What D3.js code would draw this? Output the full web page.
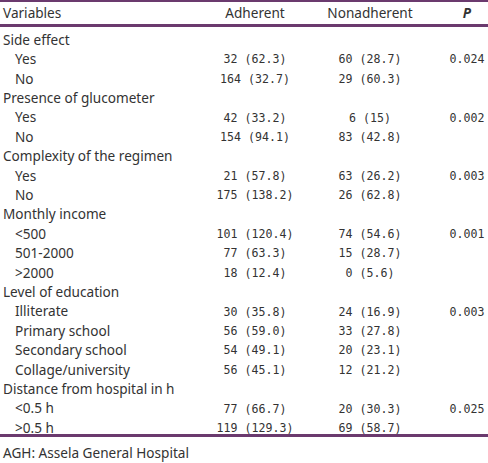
<!DOCTYPE html>
<html><head><meta charset="utf-8">
<script src="https://cdn.jsdelivr.net/npm/d3@7"></script>
<style>html,body{margin:0;padding:0;background:#fff;}svg{display:block;}</style>
</head><body><div id="chart"></div>
<script>
const headers = ["Variables", "Adherent", "Nonadherent", "P"];
const groups = ["Side effect", "Presence of glucometer", "Complexity of the regimen", "Monthly income", "Level of education", "Distance from hospital in h"];
const levels = [["Yes","No"],["Yes","No"],["Yes","No"],["<500","501-2000",">2000"],["Illiterate","Primary school","Secondary school","Collage/university"],["<0.5 h",">0.5 h"]];
const adherent = [["32 (62.3)","164 (32.7)"],["42 (33.2)","154 (94.1)"],["21 (57.8)","175 (138.2)"],["101 (120.4)","77 (63.3)","18 (12.4)"],["30 (35.8)","56 (59.0)","54 (49.1)","56 (45.1)"],["77 (66.7)","119 (129.3)"]];
const nonadherent = [["60 (28.7)","29 (60.3)"],["6 (15)","83 (42.8)"],["63 (26.2)","26 (62.8)"],["74 (54.6)","15 (28.7)","0 (5.6)"],["24 (16.9)","33 (27.8)","20 (23.1)","12 (21.2)"],["20 (30.3)","69 (58.7)"]];
const pValues = ["0.024","0.002","0.003","0.001","0.003","0.025"];
const footnote = "AGH: Assela General Hospital";

const W = 488, H = 463;
const purple = "#6b3a6e", ink = "#333333";
const sans = "'Noto Sans', sans-serif", mono = "'DejaVu Sans Mono', monospace";

// flatten rows
const rows = [];
groups.forEach((g, gi) => {
  rows.push({type: "group", label: g});
  levels[gi].forEach((l, li) => {
    rows.push({type: "level", label: l, a: adherent[gi][li], n: nonadherent[gi][li], p: li === 0 ? pValues[gi] : ""});
  });
});

const svg = d3.select("#chart").append("svg").attr("width", W).attr("height", H);
const y = d3.scalePoint().domain(d3.range(rows.length)).range([40, 428]);
const x = d3.scaleOrdinal().domain(["label","a","n","p"]).range([3, 255, 370, 467]);

svg.append("rect").attr("x",0).attr("y",0).attr("width",W).attr("height",2).attr("fill",purple);
svg.append("rect").attr("x",0).attr("y",24).attr("width",W).attr("height",3).attr("fill",purple);
svg.append("rect").attr("x",0).attr("y",434).attr("width",W).attr("height",3).attr("fill",purple);

const fs = 13.6;
const hdr = svg.append("g").attr("font-family", sans).attr("font-size", fs).attr("fill", ink);
hdr.append("text").attr("x", x("label")).attr("y", 13).attr("dy","0.35em").text(headers[0]);
hdr.append("text").attr("x", x("a")).attr("y", 13).attr("dy","0.35em").attr("text-anchor","middle").text(headers[1]);
hdr.append("text").attr("x", x("n")).attr("y", 13).attr("dy","0.35em").attr("text-anchor","middle").text(headers[2]);
hdr.append("text").attr("x", x("p")).attr("y", 13).attr("dy","0.35em").attr("text-anchor","middle")
  .attr("font-weight","bold").attr("font-style","italic").text(headers[3]);

const g = svg.append("g").attr("fill", ink);
const r = g.selectAll("g.row").data(rows).join("g").attr("class","row")
  .attr("transform", (d,i) => `translate(0,${y(i)})`);
r.append("text").attr("x", d => d.type === "group" ? x("label") : x("label") + 12)
  .attr("dy","0.35em").attr("font-family", sans).attr("font-size", fs).text(d => d.label);
const lv = r.filter(d => d.type === "level");
const ms = 11.6;
lv.append("text").attr("x", x("a")).attr("dy","0.35em").attr("text-anchor","middle")
  .attr("font-family", mono).attr("font-size", ms).text(d => d.a);
lv.append("text").attr("x", x("n")).attr("dy","0.35em").attr("text-anchor","middle")
  .attr("font-family", mono).attr("font-size", ms).text(d => d.n);
lv.append("text").attr("x", x("p")).attr("dy","0.35em").attr("text-anchor","middle")
  .attr("font-family", mono).attr("font-size", ms).text(d => d.p);

svg.append("text").attr("x", 3).attr("y", 453).attr("dy","0.35em").attr("font-family", sans)
  .attr("font-size", fs).attr("fill", ink).text(footnote);
</script></body></html>
